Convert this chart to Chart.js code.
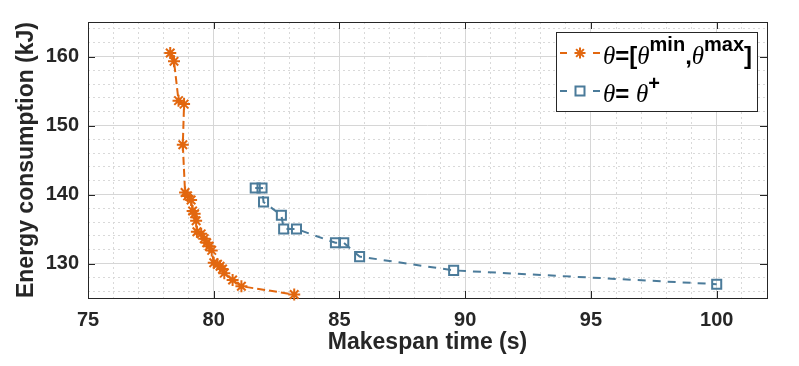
<!DOCTYPE html>
<html>
<head>
<meta charset="utf-8">
<script src="https://cdn.jsdelivr.net/npm/chart.js@4/dist/chart.umd.min.js"></script>
<style>
  html, body { margin: 0; padding: 0; background: #fff; }
  #wrap { width: 799px; height: 366px; }
</style>
</head>
<body>
<div id="wrap"><canvas id="chart" width="799" height="366"></canvas></div>
<script>
// values
const rangeX = [78.27, 78.42, 78.6, 78.82, 78.77, 78.86, 78.96, 79.1, 79.16, 79.24, 79.3, 79.33, 79.5, 79.62, 79.72, 79.82, 79.92, 80.0, 80.15, 80.25, 80.35, 80.42, 80.75, 81.1, 83.2];
const rangeY = [160.5, 159.3, 153.6, 153.1, 147.2, 140.3, 139.8, 139.2, 137.6, 137.2, 136.2, 134.6, 134.3, 133.6, 133.0, 132.5, 131.9, 130.1, 129.9, 129.6, 129.2, 128.6, 127.6, 126.7, 125.5];
const plusX = [81.65, 81.92, 81.98, 82.69, 82.78, 83.29, 84.84, 85.17, 85.8, 89.54, 100.0];
const plusY = [140.95, 140.95, 138.9, 137.0, 135.0, 135.0, 133.0, 133.0, 131.0, 129.0, 127.0];

const xTicks = [75, 80, 85, 90, 95, 100];
const yTicks = [130, 140, 150, 160];
const xGrid = Array.from({ length: 28 }, (_, i) => 75 + i);
const yGrid = Array.from({ length: 20 }, (_, i) => 126 + 2 * i);

const ORANGE = "#e2670f";
const BLUE = "#4b7b9a";
const INK = "#262626";
const SANS = '"Liberation Sans", Arial, sans-serif';
const SERIF = '"Liberation Serif", "Times New Roman", serif';

const pts = (xs, ys) => xs.map((x, i) => ({ x, y: ys[i] }));
const isMajor = (ticks, ctx) => ctx.tick && ticks.includes(ctx.tick.value);

const framePlugin = {
  id: "frame",
  beforeDatasetsDraw(chart) {
    const { ctx, chartArea: a, scales } = chart;
    const len = 7;
    ctx.save();
    ctx.strokeStyle = INK;
    ctx.lineWidth = 1;
    ctx.beginPath();
    xTicks.forEach(v => {
      const px = Math.round(scales.x.getPixelForValue(v)) + 0.5;
      ctx.moveTo(px, a.bottom); ctx.lineTo(px, a.bottom - len);
      ctx.moveTo(px, a.top); ctx.lineTo(px, a.top + len);
    });
    yTicks.forEach(v => {
      const py = Math.round(scales.y.getPixelForValue(v)) + 0.5;
      ctx.moveTo(a.left, py); ctx.lineTo(a.left + len, py);
      ctx.moveTo(a.right, py); ctx.lineTo(a.right - len, py);
    });
    ctx.stroke();
    ctx.strokeRect(Math.round(a.left) + 0.5, Math.round(a.top) + 0.5, Math.round(a.right - a.left), Math.round(a.bottom - a.top));
    ctx.restore();
  }
};

function drawMarker(ctx, style, color, x, y) {
  ctx.save();
  ctx.strokeStyle = color;
  ctx.lineWidth = 2;
  ctx.setLineDash([]);
  ctx.beginPath();
  if (style === "star") {
    const r = 5.5;
    [0, 45, 90, 135].forEach(d => {
      const t = d * Math.PI / 180;
      ctx.moveTo(x - r * Math.cos(t), y - r * Math.sin(t));
      ctx.lineTo(x + r * Math.cos(t), y + r * Math.sin(t));
    });
  } else {
    ctx.rect(x - 4.5, y - 4.5, 9, 9);
  }
  ctx.stroke();
  ctx.restore();
}

function drawRuns(ctx, runs, x, y) {
  runs.forEach(r => {
    ctx.font = r.font;
    ctx.fillText(r.t, x, y + (r.dy || 0));
    x += ctx.measureText(r.t).width;
  });
}

const legendPlugin = {
  id: "thetaLegend",
  afterDraw(chart) {
    const { ctx, chartArea: a } = chart;
    const box = { left: a.right - 211, top: a.top + 10, right: a.right - 10, bottom: a.top + 89 };
    const it = `italic 25px ${SERIF}`;
    const bd = `bold 24px ${SANS}`;
    const sp = `bold 20px ${SANS}`;
    const rows = [
      { color: ORANGE, style: "star", cy: box.top + 21, runs: [
        { t: "θ", font: it }, { t: "=[", font: bd }, { t: "θ", font: it }, { t: "min", font: sp, dy: -13 },
        { t: ",", font: bd }, { t: "θ", font: it }, { t: "max", font: sp, dy: -13 }, { t: "]", font: bd }] },
      { color: BLUE, style: "rect", cy: box.top + 59, runs: [
        { t: "θ", font: it }, { t: "= ", font: bd }, { t: "θ", font: it }, { t: "+", font: sp, dy: -12 }] }
    ];
    ctx.save();
    ctx.fillStyle = "#fff";
    ctx.fillRect(box.left, box.top, box.right - box.left, box.bottom - box.top);
    ctx.strokeStyle = INK;
    ctx.lineWidth = 1;
    ctx.strokeRect(box.left + 0.5, box.top + 0.5, box.right - box.left, box.bottom - box.top);
    rows.forEach(row => {
      const x0 = box.left + 4;
      ctx.strokeStyle = row.color;
      ctx.lineWidth = 2;
      ctx.beginPath();
      ctx.moveTo(x0, row.cy); ctx.lineTo(x0 + 7, row.cy);
      ctx.moveTo(x0 + 33, row.cy); ctx.lineTo(x0 + 40, row.cy);
      ctx.stroke();
      drawMarker(ctx, row.style, row.color, x0 + 20, row.cy);
      ctx.fillStyle = "#000";
      ctx.textBaseline = "alphabetic";
      drawRuns(ctx, row.runs, x0 + 43, row.cy + 11);
    });
    ctx.restore();
  }
};

new Chart(document.getElementById("chart"), {
  type: "scatter",
  data: {
    datasets: [
      { label: "θ=[θmin,θmax]", data: pts(rangeX, rangeY), showLine: true, borderColor: ORANGE, backgroundColor: ORANGE,
        borderWidth: 2, borderDash: [8, 4], pointStyle: "star", pointRadius: 6, pointBorderWidth: 2, pointBorderColor: ORANGE, clip: false },
      { label: "θ= θ+", data: pts(plusX, plusY), showLine: true, borderColor: BLUE, backgroundColor: "transparent",
        borderWidth: 2, borderDash: [8, 7], pointStyle: "rect", pointRadius: 6.4, pointBorderWidth: 2, pointBorderColor: BLUE, clip: false }
    ]
  },
  options: {
    responsive: false,
    animation: false,
    layout: { padding: { top: 22, right: 32, left: 0, bottom: 0 } },
    plugins: { legend: { display: false }, tooltip: { enabled: false } },
    scales: {
      x: {
        type: "linear", min: 75, max: 102,
        afterBuildTicks: s => { s.ticks = xGrid.map(v => ({ value: v })); },
        afterFit: s => { s.height = 68; },
        ticks: { autoSkip: false, maxRotation: 0, padding: 10, color: INK,
          font: { family: SANS, size: 20, weight: "bold" },
          callback: v => xTicks.includes(v) ? String(v) : "" },
        grid: { drawTicks: false, lineWidth: 1, color: ctx => isMajor(xTicks, ctx) ? "#d6d6d6" : "#d9d9d9" },
        border: { display: false, dash: ctx => isMajor(xTicks, ctx) ? [] : [2, 3] },
        title: { display: true, text: "Makespan time (s)", color: INK, padding: { top: 0, bottom: 10 },
          font: { family: SANS, size: 23, weight: "bold" } }
      },
      y: {
        type: "linear", min: 125, max: 165,
        afterBuildTicks: s => { s.ticks = yGrid.map(v => ({ value: v })); },
        afterFit: s => { s.width = 88; },
        ticks: { autoSkip: false, padding: 9, color: INK,
          font: { family: SANS, size: 20, weight: "bold" },
          callback: v => yTicks.includes(v) ? String(v) : "" },
        grid: { drawTicks: false, lineWidth: 1, color: ctx => isMajor(yTicks, ctx) ? "#d6d6d6" : "#d9d9d9" },
        border: { display: false, dash: ctx => isMajor(yTicks, ctx) ? [] : [2, 3] },
        title: { display: true, text: "Energy consumption (kJ)", color: INK, padding: { top: 13, bottom: 0 },
          font: { family: SANS, size: 23, weight: "bold" } }
      }
    }
  },
  plugins: [framePlugin, legendPlugin]
});
</script>
</body>
</html>
